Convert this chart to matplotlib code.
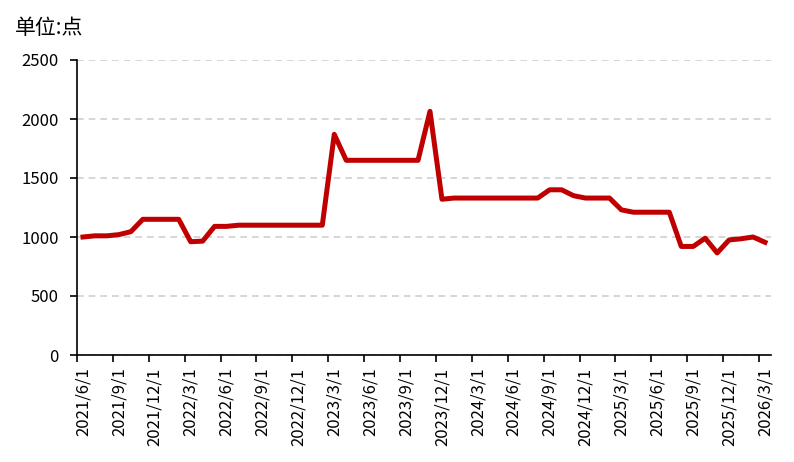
import matplotlib
matplotlib.use("Agg")
import matplotlib.pyplot as plt
from matplotlib.ticker import FixedLocator

plt.rcParams['font.family'] = ['Noto Sans CJK SC', 'DejaVu Sans']

# month labels (monthly, 2021/6 .. 2026/3)
months = []
y, m = 2021, 6
while (y, m) <= (2026, 3):
    months.append(f"{y}/{m}/1")
    m += 1
    if m > 12:
        m = 1
        y += 1

values = [1000, 1010, 1010, 1020, 1045, 1150, 1150, 1150, 1150, 960,
          965, 1090, 1090, 1100, 1100, 1100, 1100, 1100, 1100, 1100,
          1100, 1870, 1650, 1650, 1650, 1650, 1650, 1650, 1650, 2065,
          1320, 1330, 1330, 1330, 1330, 1330, 1330, 1330, 1330, 1400,
          1400, 1350, 1330, 1330, 1330, 1230, 1210, 1210, 1210, 1210,
          920, 920, 990, 865, 975, 985, 1000, 955]

y_ticks = [0, 500, 1000, 1500, 2000, 2500]
unit_label = "单位:点"

fig = plt.figure(figsize=(7.94, 4.62), dpi=100)
ax = fig.add_axes([77/794, 1-355/462, (771-77)/794, (355-60)/462])

x = list(range(len(values)))
ax.plot(x, values, color='#C00000', linewidth=3.6, solid_joinstyle='round', zorder=3)

ax.set_xlim(-0.5, len(values) - 0.5)
ax.set_ylim(0, 2500)
ax.set_yticks(y_ticks)
ax.set_yticklabels([str(v) for v in y_ticks], fontsize=12)
ax.yaxis.grid(True, color='#D0D0D0', linestyle=(0, (4, 3)), linewidth=1.2)
ax.set_axisbelow(True)

lab_idx = list(range(0, len(values), 3))
ax.xaxis.set_major_locator(FixedLocator([i - 0.5 for i in lab_idx]))
ax.xaxis.set_minor_locator(FixedLocator(lab_idx))
ax.set_xticklabels([])
ax.set_xticklabels([months[i] for i in lab_idx], minor=True, rotation=90, fontsize=12)
ax.tick_params(axis='x', which='major', length=5, width=1.2, direction='out', color='black')
ax.tick_params(axis='x', which='minor', length=0, pad=9)
ax.tick_params(axis='y', length=5, width=1.2, direction='out', pad=8)

for s in ['top', 'right']:
    ax.spines[s].set_visible(False)
ax.spines['left'].set_linewidth(1.2)
ax.spines['bottom'].set_linewidth(1.2)

fig.text(15/794, 1-28/462, unit_label, fontsize=15, va='center', ha='left')

fig.savefig("out.png", dpi=100)
